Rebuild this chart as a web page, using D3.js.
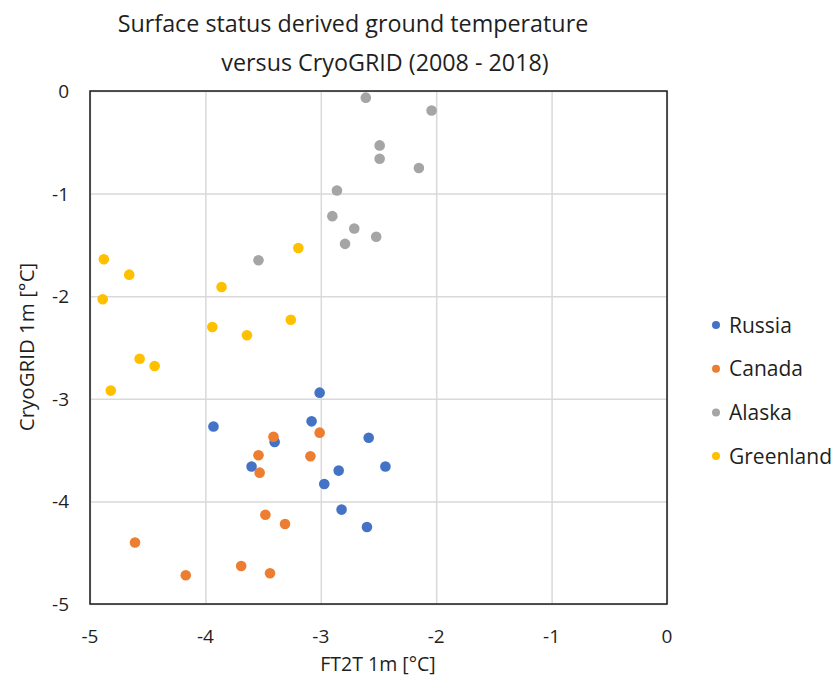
<!DOCTYPE html>
<html>
<head>
<meta charset="utf-8">
<script src="https://cdn.jsdelivr.net/npm/d3@7"></script>
<style>
  body { margin: 0; background: #fff; }
  text { font-family: "Open Sans", "Noto Sans", sans-serif; fill: #1f1f1f; }
</style>
</head>
<body>
<div id="chart"></div>
<script>
// values: [FT2T 1m, CryoGRID 1m]
const russia = [
  [-3.01, -2.94], [-3.93, -3.27], [-3.08, -3.22], [-3.40, -3.42],
  [-2.585, -3.38], [-3.60, -3.66], [-2.845, -3.70], [-2.44, -3.66],
  [-2.97, -3.83], [-2.82, -4.08], [-2.60, -4.25]
];
const canada = [
  [-3.41, -3.37], [-3.01, -3.33], [-3.54, -3.55], [-3.09, -3.56],
  [-3.53, -3.72], [-3.48, -4.13], [-3.31, -4.22], [-3.69, -4.63],
  [-3.44, -4.70], [-4.17, -4.72], [-4.61, -4.40]
];
const alaska = [
  [-2.61, -0.065], [-2.04, -0.19], [-2.49, -0.53], [-2.49, -0.66],
  [-2.15, -0.75], [-2.86, -0.97], [-2.90, -1.22], [-2.71, -1.34],
  [-2.79, -1.49], [-2.52, -1.42], [-3.54, -1.65]
];
const greenland = [
  [-3.195, -1.53], [-4.88, -1.64], [-4.66, -1.79], [-4.89, -2.03],
  [-3.86, -1.91], [-3.94, -2.30], [-3.64, -2.38], [-3.26, -2.23],
  [-4.57, -2.61], [-4.44, -2.68], [-4.82, -2.92]
];
const seriesNames = ["Russia", "Canada", "Alaska", "Greenland"];
const seriesColors = ["#4472C4", "#ED7D31", "#A5A5A5", "#FFC000"];
const xTicks = [-5, -4, -3, -2, -1, 0];
const yTicks = [0, -1, -2, -3, -4, -5];
const titleLines = ["Surface status derived ground temperature", "versus CryoGRID (2008 - 2018)"];

const series = [russia, canada, alaska, greenland];

const W = 840, H = 690;
const plot = {left: 90, right: 667, top: 91, bottom: 604};

const svg = d3.select("#chart").append("svg")
    .attr("width", W).attr("height", H);

const x = d3.scaleLinear().domain([-5, 0]).range([plot.left, plot.right]);
const y = d3.scaleLinear().domain([-5, 0]).range([plot.bottom, plot.top]);

// gridlines
svg.append("g")
    .attr("transform", `translate(0,${plot.bottom})`)
    .call(d3.axisBottom(x).tickValues(xTicks).tickSize(-(plot.bottom - plot.top)).tickFormat(""))
    .call(g => g.select(".domain").remove())
    .call(g => g.selectAll("line").attr("stroke", "#d9d9d9").attr("stroke-width", 1.5));
svg.append("g")
    .attr("transform", `translate(${plot.left},0)`)
    .call(d3.axisLeft(y).tickValues(yTicks).tickSize(-(plot.right - plot.left)).tickFormat(""))
    .call(g => g.select(".domain").remove())
    .call(g => g.selectAll("line").attr("stroke", "#d9d9d9").attr("stroke-width", 1.5));

// plot border
svg.append("rect")
    .attr("x", plot.left).attr("y", plot.top)
    .attr("width", plot.right - plot.left).attr("height", plot.bottom - plot.top)
    .attr("fill", "none").attr("stroke", "#1a1a1a").attr("stroke-width", 1.5);

// tick labels
svg.append("g").selectAll("text").data(xTicks).join("text")
    .attr("x", d => x(d)).attr("y", plot.bottom + 39)
    .attr("text-anchor", "middle").attr("font-size", 19)
    .text(d => d === 0 ? "0" : "-" + Math.abs(d));
svg.append("g").selectAll("text").data(yTicks).join("text")
    .attr("x", 69).attr("y", d => y(d) + 7)
    .attr("text-anchor", "end").attr("font-size", 19)
    .text(d => d === 0 ? "0" : "-" + Math.abs(d));

// axis titles
svg.append("text")
    .attr("x", 378).attr("y", 671)
    .attr("text-anchor", "middle").attr("font-size", 19.5)
    .text("FT2T 1m [°C]");
svg.append("text")
    .attr("transform", "translate(34,347) rotate(-90)")
    .attr("text-anchor", "middle").attr("font-size", 20.5)
    .text("CryoGRID 1m [°C]");

// chart title
svg.append("text")
    .attr("x", 353).attr("y", 32)
    .attr("text-anchor", "middle").attr("font-size", 23.3)
    .text(titleLines[0]);
svg.append("text")
    .attr("x", 385).attr("y", 71)
    .attr("text-anchor", "middle").attr("font-size", 23.3)
    .text(titleLines[1]);

// points
series.forEach((data, i) => {
  svg.append("g").selectAll("circle").data(data).join("circle")
      .attr("cx", d => x(d[0])).attr("cy", d => y(d[1]))
      .attr("r", 5.3)
      .attr("fill", seriesColors[i]);
});

// legend
const legend = svg.append("g").selectAll("g").data(seriesNames).join("g")
    .attr("transform", (d, i) => `translate(716,${325 + i * 43.7})`);
legend.append("circle").attr("r", 4).attr("fill", (d, i) => seriesColors[i]);
legend.append("text").attr("x", 13).attr("y", 7.5).attr("font-size", 21).text(d => d);
</script>
</body>
</html>
